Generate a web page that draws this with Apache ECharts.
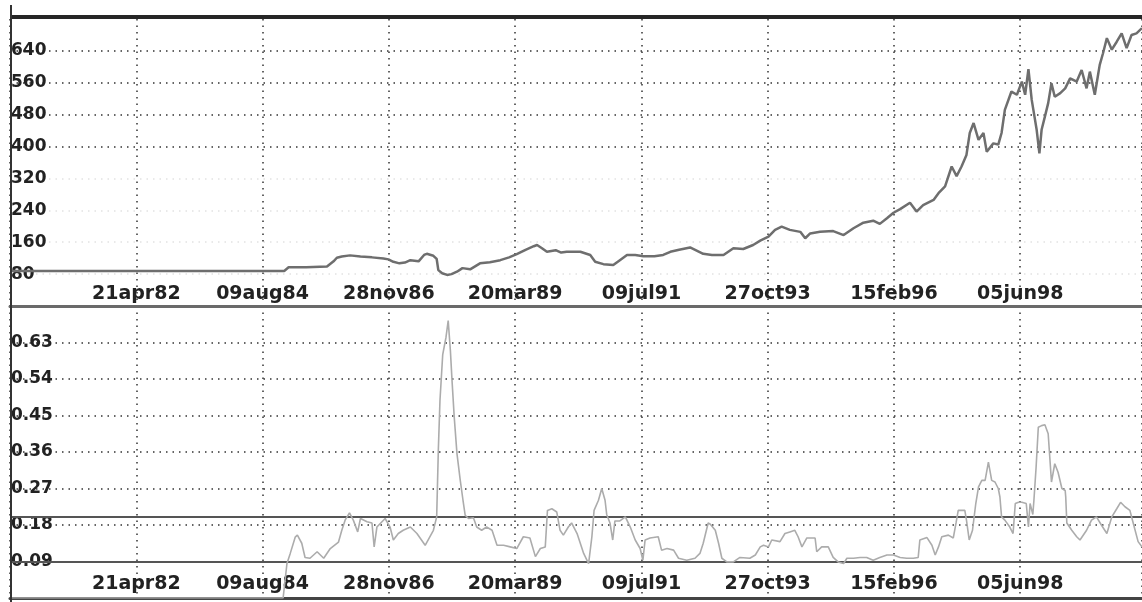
<!DOCTYPE html>
<html>
<head>
<meta charset="utf-8">
<script src="https://cdn.jsdelivr.net/npm/echarts@6/dist/echarts.min.js"></script>
<style>
  html, body { margin: 0; padding: 0; background: #fff; }
  #chart { width: 1142px; height: 602px; }
</style>
</head>
<body>
<div id="chart"></div>
<script>
// date tick labels, evenly spaced along the time axis
var dateTicks = ['21apr82', '09aug84', '28nov86', '20mar89', '09jul91', '27oct93', '15feb96', '05jun98'];

// top panel: price level (decimal year -> value)
var priceYears = [1980.00, 1985.00, 1985.08, 1985.40, 1985.78, 1985.90, 1985.96, 1986.05, 1986.20, 1986.39,
  1986.60, 1986.81, 1986.90, 1986.99, 1987.10, 1987.20, 1987.30, 1987.45, 1987.55, 1987.60,
  1987.72, 1987.78, 1987.81, 1987.88, 1987.97, 1988.05, 1988.15, 1988.25, 1988.39, 1988.57,
  1988.75, 1988.94, 1989.10, 1989.24, 1989.40, 1989.55, 1989.61, 1989.70, 1989.79, 1989.95,
  1990.05, 1990.15, 1990.40, 1990.58, 1990.67, 1990.82, 1991.00, 1991.12, 1991.25, 1991.40,
  1991.55, 1991.75, 1991.91, 1992.04, 1992.20, 1992.40, 1992.52, 1992.64, 1992.80, 1993.01,
  1993.19, 1993.37, 1993.55, 1993.68, 1993.83, 1993.95, 1994.07, 1994.22, 1994.41, 1994.50,
  1994.59, 1994.77, 1995.01, 1995.20, 1995.38, 1995.56, 1995.74, 1995.86, 1995.99, 1996.11,
  1996.23, 1996.41, 1996.53, 1996.65, 1996.84, 1996.93, 1997.05, 1997.17, 1997.26, 1997.35,
  1997.44, 1997.50, 1997.57, 1997.66, 1997.75, 1997.81, 1997.93, 1998.02, 1998.08, 1998.14,
  1998.26, 1998.36, 1998.45, 1998.51, 1998.57, 1998.63, 1998.66, 1998.72, 1998.77, 1998.81,
  1998.87, 1998.93, 1998.99, 1999.05, 1999.15, 1999.24, 1999.33, 1999.45, 1999.54, 1999.63,
  1999.69, 1999.78, 1999.84, 1999.87, 1999.93, 2000.00, 2000.09, 2000.18, 2000.27, 2000.36,
  2000.45, 2000.54, 2000.64];
var priceValues = [88, 88, 97, 97, 99, 112, 121, 124, 127, 124,
  122, 119, 117, 111, 107, 109, 115, 112, 128, 131,
  126, 118, 90, 82, 78, 80, 86, 95, 92, 107,
  110, 115, 122, 130, 141, 150, 153, 145, 136, 140,
  134, 136, 136, 128, 111, 105, 103, 115, 128, 128,
  125, 125, 128, 136, 141, 147, 139, 131, 128, 128,
  145, 143, 153, 164, 174, 191, 199, 191, 186, 170,
  182, 186, 188, 178, 195, 209, 214, 206, 220, 234,
  243, 259, 237, 253, 266, 283, 300, 350, 326, 350,
  379, 434, 459, 417, 434, 387, 408, 405, 434, 492,
  538, 530, 563, 530, 594, 517, 492, 442, 383, 442,
  475, 509, 559, 525, 534, 546, 571, 563, 592, 546,
  588, 530, 580, 605, 634, 672, 643, 663, 684, 647,
  680, 684, 697];

// bottom panel: volatility
var volYears = [1980.00, 1984.98, 1985.05, 1985.11, 1985.20, 1985.24, 1985.32, 1985.38, 1985.47, 1985.60,
  1985.72, 1985.84, 1985.99, 1986.05, 1986.11, 1986.19, 1986.26, 1986.34, 1986.39, 1986.51,
  1986.60, 1986.64, 1986.69, 1986.84, 1986.93, 1986.99, 1987.08, 1987.17, 1987.30, 1987.42,
  1987.57, 1987.72, 1987.78, 1987.81, 1987.84, 1987.89, 1987.95, 1987.99, 1988.03, 1988.06,
  1988.10, 1988.15, 1988.21, 1988.26, 1988.30, 1988.36, 1988.45, 1988.51, 1988.60, 1988.69,
  1988.79, 1988.88, 1989.00, 1989.12, 1989.24, 1989.36, 1989.48, 1989.58, 1989.67, 1989.76,
  1989.80, 1989.88, 1989.97, 1990.03, 1990.09, 1990.18, 1990.24, 1990.34, 1990.46, 1990.55,
  1990.61, 1990.65, 1990.73, 1990.79, 1990.85, 1990.88, 1990.94, 1990.99, 1991.03, 1991.12,
  1991.22, 1991.31, 1991.40, 1991.49, 1991.54, 1991.58, 1991.67, 1991.82, 1991.88, 1991.98,
  1992.10, 1992.19, 1992.34, 1992.49, 1992.58, 1992.64, 1992.73, 1992.77, 1992.86, 1992.92,
  1992.98, 1993.07, 1993.19, 1993.31, 1993.49, 1993.59, 1993.68, 1993.74, 1993.83, 1993.89,
  1994.04, 1994.13, 1994.22, 1994.31, 1994.37, 1994.44, 1994.53, 1994.68, 1994.71, 1994.80,
  1994.92, 1995.01, 1995.10, 1995.20, 1995.26, 1995.38, 1995.50, 1995.62, 1995.74, 1995.86,
  1995.99, 1996.11, 1996.23, 1996.35, 1996.47, 1996.56, 1996.59, 1996.72, 1996.81, 1996.87,
  1996.93, 1996.99, 1997.11, 1997.20, 1997.25, 1997.29, 1997.41, 1997.44, 1997.49, 1997.55,
  1997.61, 1997.66, 1997.72, 1997.78, 1997.84, 1997.90, 1997.96, 1998.02, 1998.05, 1998.08,
  1998.14, 1998.23, 1998.29, 1998.33, 1998.39, 1998.45, 1998.53, 1998.57, 1998.60, 1998.65,
  1998.67, 1998.71, 1998.75, 1998.81, 1998.87, 1998.93, 1998.99, 1999.05, 1999.11, 1999.18,
  1999.24, 1999.25, 1999.27, 1999.36, 1999.45, 1999.51, 1999.63, 1999.72, 1999.81, 1999.90,
  2000.00, 2000.09, 2000.18, 2000.25, 2000.33, 2000.42, 2000.48, 2000.57, 2000.64];
var volValues = [0, 0, 0.085, 0.11, 0.15, 0.155, 0.135, 0.10, 0.098, 0.114,
  0.098, 0.122, 0.138, 0.167, 0.192, 0.21, 0.192, 0.163, 0.196, 0.188,
  0.185, 0.126, 0.175, 0.196, 0.175, 0.143, 0.159, 0.167, 0.175, 0.159,
  0.13, 0.167, 0.2, 0.364, 0.487, 0.60, 0.643, 0.684, 0.61, 0.536,
  0.446, 0.356, 0.29, 0.241, 0.204, 0.196, 0.198, 0.175, 0.167, 0.175,
  0.167, 0.13, 0.13, 0.126, 0.122, 0.151, 0.148, 0.102, 0.122, 0.126,
  0.216, 0.22, 0.212, 0.167, 0.155, 0.175, 0.185, 0.159, 0.11, 0.085,
  0.151, 0.216, 0.241, 0.27, 0.241, 0.206, 0.185, 0.143, 0.19, 0.19,
  0.2, 0.175, 0.143, 0.122, 0.093, 0.143, 0.148, 0.151, 0.118, 0.122,
  0.118, 0.098, 0.093, 0.098, 0.11, 0.135, 0.185, 0.182, 0.167, 0.135,
  0.098, 0.089, 0.089, 0.10, 0.098, 0.106, 0.126, 0.13, 0.126, 0.143,
  0.139, 0.159, 0.163, 0.167, 0.151, 0.126, 0.148, 0.148, 0.114, 0.126,
  0.126, 0.10, 0.089, 0.085, 0.098, 0.098, 0.10, 0.10, 0.093, 0.10,
  0.106, 0.106, 0.10, 0.098, 0.098, 0.10, 0.143, 0.149, 0.13, 0.106,
  0.126, 0.151, 0.155, 0.148, 0.185, 0.216, 0.216, 0.192, 0.143, 0.167,
  0.233, 0.274, 0.29, 0.29, 0.335, 0.29, 0.286, 0.27, 0.249, 0.2,
  0.192, 0.175, 0.159, 0.233, 0.236, 0.236, 0.233, 0.175, 0.233, 0.206,
  0.241, 0.323, 0.421, 0.425, 0.427, 0.405, 0.286, 0.331, 0.31, 0.27,
  0.265, 0.249, 0.185, 0.167, 0.151, 0.143, 0.167, 0.192, 0.2, 0.18,
  0.159, 0.2, 0.22, 0.236, 0.225, 0.216, 0.185, 0.139, 0.126];

var volBands = [0.2, 0.09];

var tickDays = 841;      // spacing of the date ticks, in days
var startYear = 1980;
var endDay = 7539;

function toDay(y) { return (y - startYear) * 365.25; }
function pairs(xs, ys) { return xs.map(function (y, i) { return [toDay(y), ys[i]]; }); }
function dateLabel(v) {
  var k = Math.round(v / tickDays) - 1;
  return dateTicks[k] || '';
}

var font = 'DejaVu Sans';
var dotted = { color: '#333', width: 1.5, type: [1.5, 5] };
var T = 'rgba(0,0,0,0)';
var faint = '#e2e2e2';

var myChart = echarts.init(document.getElementById('chart'));

function xAx(grid, lineColor, margin) {
  return {
    type: 'value', gridIndex: grid, min: 0, max: endDay, interval: tickDays,
    axisLine: { show: true, lineStyle: { color: lineColor, width: 3 } },
    axisTick: { show: false },
    splitLine: { show: true, lineStyle: dotted },
    axisLabel: {
      inside: true, margin: margin, showMinLabel: false, showMaxLabel: false,
      formatter: dateLabel, color: '#222', fontFamily: font, fontWeight: 'bold', fontSize: 19
    }
  };
}

var option = {
  animation: false,
  backgroundColor: '#fff',
  grid: [
    { left: 10, right: 0, top: 19, height: 287 },
    { left: 10, right: 0, top: 306, height: 292 }
  ],
  xAxis: [xAx(0, '#6a6a6a', 2), xAx(1, '#444', 4)],
  yAxis: [
    {
      type: 'value', gridIndex: 0, min: 0, max: 720, interval: 80,
      axisLine: { show: false }, axisTick: { show: false },
      splitLine: { show: true, lineStyle: { type: [1.5, 5], width: 1.5,
        color: [T, faint, faint, faint, faint, '#333', '#333', '#333', '#333', T] } },
      axisLabel: { inside: true, margin: 1, showMinLabel: false, showMaxLabel: false,
        color: '#222', fontFamily: font, fontWeight: 'bold', fontSize: 17, padding: [0, 0, 4, 0] }
    },
    {
      type: 'value', gridIndex: 1, min: 0, max: 0.72, interval: 0.09,
      axisLine: { show: false }, axisTick: { show: false },
      splitLine: { show: true, lineStyle: { type: [1.5, 5], width: 1.5,
        color: [T, '#333', '#333', '#333', '#333', '#333', '#333', '#333', T] } },
      axisLabel: { inside: true, margin: 1, showMinLabel: false, showMaxLabel: false,
        formatter: function (v) { return v.toFixed(2); },
        color: '#222', fontFamily: font, fontWeight: 'bold', fontSize: 17, padding: [0, 0, 4, 0] }
    }
  ],
  series: [
    {
      type: 'line', xAxisIndex: 0, yAxisIndex: 0, data: pairs(priceYears, priceValues),
      showSymbol: false, lineStyle: { color: '#6e6e6e', width: 2.5 }, z: 5
    },
    {
      type: 'line', xAxisIndex: 1, yAxisIndex: 1, data: pairs(volYears, volValues),
      showSymbol: false, lineStyle: { color: '#acacac', width: 1.6 }, z: 5,
      markLine: {
        silent: true, symbol: 'none', label: { show: false },
        lineStyle: { color: '#555', width: 2, type: 'solid' },
        data: volBands.map(function (v) { return { yAxis: v }; })
      }
    }
  ],
  graphic: [
    { type: 'line', shape: { x1: 10, y1: 17, x2: 1142, y2: 17 }, style: { stroke: '#262626', lineWidth: 4 }, z: 10 },
    { type: 'line', shape: { x1: 11, y1: 5, x2: 11, y2: 602 }, style: { stroke: '#333', lineWidth: 2 }, z: 10 }
  ]
};

myChart.setOption(option);
</script>
</body>
</html>
